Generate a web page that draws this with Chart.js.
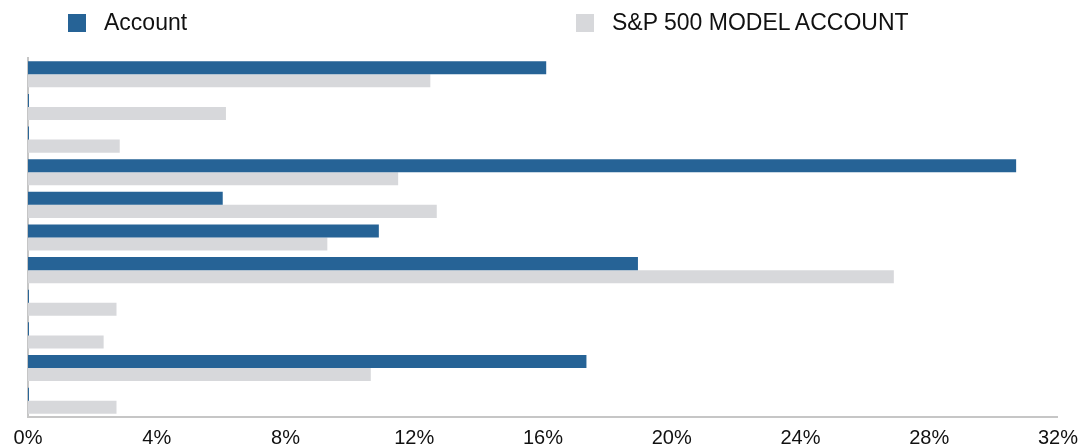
<!DOCTYPE html>
<html lang="en">
<head>
<meta charset="utf-8">
<script src="https://cdn.jsdelivr.net/npm/chart.js@4.4.1/dist/chart.umd.min.js"></script>
<style>
  html, body { margin: 0; padding: 0; background: #fff; overflow: hidden; }
  #wrap { position: relative; width: 1078px; height: 446px; overflow: hidden; }
  .legend { position: absolute; top: 11px; font-family: "Liberation Sans", Arial, sans-serif; font-size: 23px; color: #111; line-height: 22px; }
  .legend span.box { display: inline-block; width: 18px; height: 18px; vertical-align: -2px; margin-right: 18px; }
</style>
</head>
<body>
<div id="wrap">
  <div class="legend" id="leg1" style="left:68px"><span class="box" style="background:#266396"></span>Account</div>
  <div class="legend" id="leg2" style="left:576px"><span class="box" style="background:#d7d8db"></span>S&amp;P 500 MODEL ACCOUNT</div>
  <canvas id="chart" width="1087" height="459"></canvas>
</div>

<script type="text/javascript">
"use strict";

// one entry per sector row, top to bottom (no labels shown on the chart)
var categories = ["1", "2", "3", "4", "5", "6", "7", "8", "9", "10", "11"];
var accountValues = [16.1, 0.03, 0.03, 30.7, 6.05, 10.9, 18.95, 0.03, 0.03, 17.35, 0.03];
var modelValues = [12.5, 6.15, 2.85, 11.5, 12.7, 9.3, 26.9, 2.75, 2.35, 10.65, 2.75];
var tickValues = [0, 4, 8, 12, 16, 20, 24, 28, 32];

var ctx = document.getElementById("chart");
var barChart = new Chart(ctx, {
  type: 'bar',
  data: {
    labels: categories,
    datasets: [{
      label: 'Account',
      data: accountValues,
      backgroundColor: '#266396',
      barPercentage: 1.0,
      categoryPercentage: 0.8
    }, {
      label: 'S&P 500 MODEL ACCOUNT',
      data: modelValues,
      backgroundColor: '#d7d8db',
      barPercentage: 1.0,
      categoryPercentage: 0.8
    }]
  },
  options: {
    indexAxis: 'y',
    responsive: false,
    animation: false,
    layout: { padding: { left: 28, top: 58, right: 0, bottom: 0 } },
    plugins: {
      legend: { display: false },
      tooltip: { enabled: false }
    },
    scales: {
      x: {
        min: 0,
        max: 32,
        afterBuildTicks: function (axis) {
          axis.ticks = tickValues.map(function (v) { return { value: v }; });
        },
        grid: { display: false, drawTicks: false },
        border: { display: true, color: '#c6c6c6', width: 2 },
        ticks: {
          color: '#111',
          padding: 9,
          font: { family: 'Liberation Sans', size: 20 },
          callback: function (v) { return v + '%'; }
        }
      },
      y: {
        grid: { display: false, drawTicks: false },
        border: { display: true, color: '#c6c6c6', width: 2 },
        ticks: { display: false }
      }
    }
  }
});
</script>
</body>
</html>
